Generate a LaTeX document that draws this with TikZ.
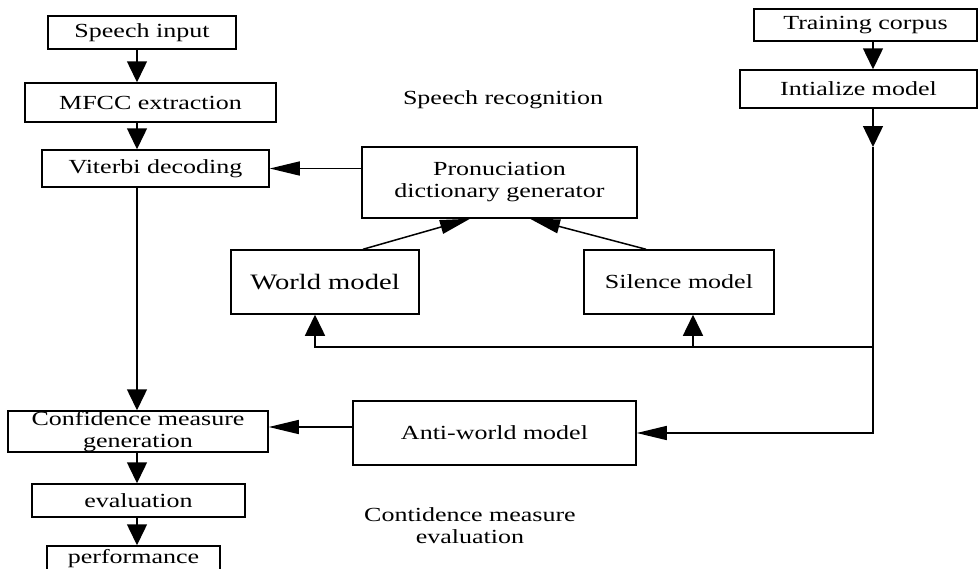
\documentclass[tikz,border=0pt]{standalone}
\usepackage{fontspec}
\setmainfont{Liberation Serif}[FakeStretch=1.3]
\usetikzlibrary{arrows.meta}

\begin{document}
\begin{tikzpicture}[x=1pt, y=-1pt, line width=1.5pt,
  box/.style={draw, inner sep=0pt, align=center, font=\fontsize{20}{22}\selectfont},
  varrow/.style={-{Triangle[length=21pt,width=20pt]}},
  harrow/.style={-{Triangle[length=30pt,width=14pt]}}]
  \useasboundingbox (0,0) rectangle (980,568);
  \clip (0,0) rectangle (980,568);

  % left column
  \node (speech) [box, minimum width=188pt, minimum height=33pt] at (142,32.5) {Speech input};
  \node (mfcc) [box, minimum width=251pt, minimum height=39pt] at (150.5,102.5) {MFCC extraction};
  \node (viterbi) [box, minimum width=227pt, minimum height=37pt] at (155.5,168.5) {Viterbi decoding};
  \node (conf) [box, minimum width=260pt, minimum height=41pt] at (138,431.5) {Confidence measure\\generation};
  \node (eval) [box, minimum width=213pt, minimum height=33pt] at (138.5,500.5) {evaluation};
  \node (perf) [box, minimum width=173pt, minimum height=26pt] at (133.5,559) {performance};

  % models
  \node (pron) [box, minimum width=275pt, minimum height=71pt] at (499.5,182.5) {Pronuciation\\dictionary generator};
  \node (world) [box, minimum width=188pt, minimum height=64pt, font=\fontsize{22}{24}\selectfont] at (325,282) {World model};
  \node (silence) [box, minimum width=190pt, minimum height=64pt] at (679,282) {Silence model};
  \node (anti) [box, minimum width=283pt, minimum height=64pt] at (494.5,433) {Anti-world model};

  % right column
  \node (corpus) [box, minimum width=223pt, minimum height=32pt] at (865.5,25) {Training corpus};
  \node (init) [box, minimum width=237pt, minimum height=38pt] at (858.5,89) {Intialize model};

  % stage labels
  \node (asr) [font=\fontsize{20}{22}\selectfont] at (503,100) {Speech recognition};
  \node (cme) [align=center, font=\fontsize{20}{22}\selectfont] at (470,526) {Contidence measure\\evaluation};

  \coordinate (lc) at (137,0);
  \coordinate (rc) at (873,0);
  \coordinate (split) at (873,147);
  \coordinate (fork) at (873,347);
  \coordinate (sa) at ([xshift=14pt]silence.south);
  \coordinate (aw) at ([yshift=6pt]anti.west);

  \draw[varrow] (speech.south -| lc) -- (mfcc.north -| lc);
  \draw[varrow] (mfcc.south -| lc) -- (viterbi.north -| lc);
  \draw[varrow] (viterbi.south -| lc) -- (conf.north -| lc);
  \draw[varrow] (conf.south -| lc) -- (eval.north -| lc);
  \draw[varrow] (eval.south -| lc) -- (perf.north -| lc);

  \draw[harrow] (pron.west |- viterbi) -- (viterbi.east);
  \draw[harrow] ([xshift=38pt]world.north) -- ([xshift=-29.5pt]pron.south);
  \draw[harrow] ([xshift=-33pt]silence.north) -- ([xshift=30.5pt]pron.south);
  \draw[harrow] (aw) -- (aw -| conf.east);

  \draw[varrow] (corpus.south -| rc) -- (init.north -| rc);
  \draw[varrow] (init.south -| rc) -- (split);
  \draw[harrow] (split) |- (anti.east);
  \draw[varrow] (fork) -| ([xshift=-10pt]world.south);
  \draw[varrow] (sa |- fork) -- (sa);
\end{tikzpicture}
\end{document}
